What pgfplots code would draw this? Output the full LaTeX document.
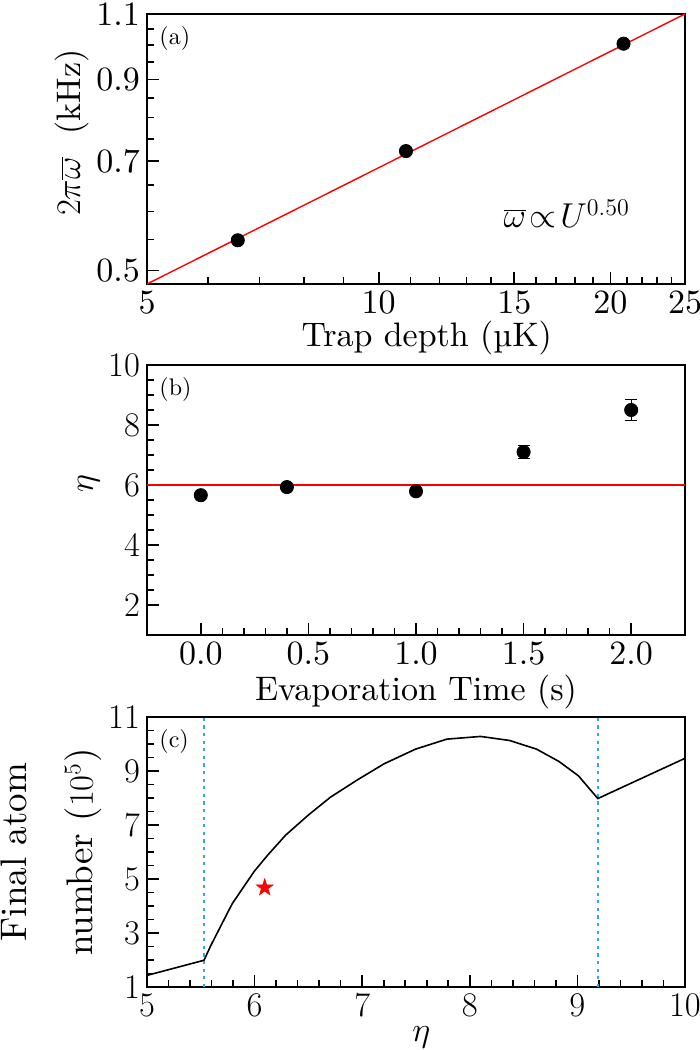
\documentclass[border=0pt]{standalone}
\usepackage{fontspec}
\setmainfont{lmroman10-regular.otf}[ItalicFont=lmroman10-italic.otf, BoldFont=lmroman10-bold.otf]
\usepackage{pgfplots}
\pgfplotsset{compat=1.18}
\definecolor{dashblue}{RGB}{50,170,225}
\pgfdeclareplotmark{fstar}{%
  \pgfpathmoveto{\pgfpointpolar{90}{\pgfplotmarksize}}%
  \pgfpathlineto{\pgfpointpolar{126}{0.382\pgfplotmarksize}}%
  \pgfpathlineto{\pgfpointpolar{162}{\pgfplotmarksize}}%
  \pgfpathlineto{\pgfpointpolar{198}{0.382\pgfplotmarksize}}%
  \pgfpathlineto{\pgfpointpolar{234}{\pgfplotmarksize}}%
  \pgfpathlineto{\pgfpointpolar{270}{0.382\pgfplotmarksize}}%
  \pgfpathlineto{\pgfpointpolar{306}{\pgfplotmarksize}}%
  \pgfpathlineto{\pgfpointpolar{342}{0.382\pgfplotmarksize}}%
  \pgfpathlineto{\pgfpointpolar{18}{\pgfplotmarksize}}%
  \pgfpathlineto{\pgfpointpolar{54}{0.382\pgfplotmarksize}}%
  \pgfpathclose
  \pgfusepathqfillstroke}
\pgfplotsset{
  every axis/.append style={
    scale only axis, width=269pt, height=135pt,
    axis line style={line width=0.9pt},
    tick align=inside, xtick pos=left, ytick pos=left,
    major tick length=6pt, minor tick length=3.3pt,
    every tick/.style={black, line width=0.8pt},
    tick label style={font=\fontsize{17}{20}\selectfont},
    label style={font=\fontsize{17}{20}\selectfont},
    xlabel style={anchor=center},
    ylabel style={anchor=center, rotate=0},
    anchor=south west,
  },
}
\begin{document}
\begin{tikzpicture}
\path[use as bounding box] (0,0) rectangle (350pt,525pt);
% (a)
\begin{axis}[at={(73.5pt,383pt)},
  xmode=log, ymode=log,
  xmin=5, xmax=25, ymin=0.48, ymax=1.1,
  xtick={5,10,15,20,25}, xticklabels={5,10,15,20,25},
  minor xtick={6,7,8,9,11,12,13,14,16,17,18,19,21,22,23,24},
  ytick={0.5,0.7,0.9,1.1}, yticklabels={0.5,0.7,0.9,1.1},
  minor ytick={0.55,0.6,0.65,0.75,0.8,0.85,0.95,1.0,1.05},
  log ticks with fixed point,
  xlabel={Trap depth (\textmu K)},
  xlabel style={at={(axis description cs:0.52,-0.2)}},
  ylabel={$2\pi\overline{\omega}$\ \ (kHz)},
  ylabel style={at={(axis description cs:-0.14,0.56)}},
  clip=false]
\addplot[red, line width=0.7pt] coordinates {(5,0.48) (25,1.1)};
\addplot[only marks, mark=*, mark size=3.3pt, black] coordinates {(6.56,0.549) (10.85,0.722) (20.8,1.004)};
\node[anchor=north west, font=\fontsize{12}{14}\selectfont] at (axis description cs:0.01,0.98) {(a)};
\node[font=\fontsize{17}{20}\selectfont] at (axis description cs:0.78,0.26) {$\overline{\omega}\!\propto\! U^{0.50}$};
\end{axis}
% (b)
\begin{axis}[at={(73.5pt,207.5pt)},
  xmin=-0.25, xmax=2.25, ymin=1, ymax=10,
  xtick={0,0.5,1,1.5,2},
  xticklabels={0.0,0.5,1.0,1.5,2.0},
  minor x tick num=4,
  ytick={2,4,6,8,10},
  minor y tick num=3,
  xlabel={Evaporation Time (s)},
  xlabel style={at={(axis description cs:0.5,-0.21)}},
  ylabel={$\eta$},
  ylabel style={at={(axis description cs:-0.108,0.56)}},
  ]
\addplot[red, line width=0.8pt] coordinates {(-0.25,6) (2.25,6)};
\addplot[only marks, mark=*, mark size=3.3pt, black,
  error bars/.cd, y dir=both, y explicit, error bar style={line width=0.6pt},
  error mark options={rotate=90, mark size=3pt, line width=0.6pt}]
  coordinates {(0,5.66) +- (0,0.08) (0.4,5.93) +- (0,0.08) (1.0,5.79) +- (0,0.08) (1.5,7.1) +- (0,0.22) (2.0,8.5) +- (0,0.34)};
\node[anchor=north west, font=\fontsize{12}{14}\selectfont] at (axis description cs:0.01,0.98) {(b)};
\end{axis}
% (c)
\begin{axis}[at={(73.5pt,31.5pt)},
  xmin=5, xmax=10, ymin=1, ymax=11,
  xtick={5,6,7,8,9,10},
  minor x tick num=4,
  ytick={1,3,5,7,9,11},
  minor y tick num=3,
  xlabel={$\eta$},
  xlabel style={at={(axis description cs:0.51,-0.185)}},
  ylabel={Final atom\\[12pt]number ($10^5$)},
  ylabel style={at={(axis description cs:-0.177,0.5)}, align=center, font=\fontsize{18.5}{21}\selectfont},
  ]
\addplot[dashblue, line width=1pt, dash pattern=on 1.6pt off 2.2pt] coordinates {(5.53,1) (5.53,11)};
\addplot[dashblue, line width=1pt, dash pattern=on 1.6pt off 2.2pt] coordinates {(9.19,1) (9.19,11)};
\addplot[black, line width=0.8pt] coordinates {
(5,1.43) (5.53,1.99) (5.59,2.51) (5.695,3.33) (5.79,4.07) (5.907,4.76) (5.998,5.29)
(6.123,5.89) (6.29,6.63) (6.50,7.37) (6.705,8.03) (6.955,8.67) (7.205,9.27)
(7.496,9.81) (7.787,10.18) (8.10,10.28) (8.37,10.13) (8.62,9.81) (8.83,9.35)
(9.01,8.82) (9.19,7.98) (10,9.47)};
\addplot[only marks, mark=fstar, mark size=4.3pt, red] coordinates {(6.094,4.68)};
\node[anchor=north west, font=\fontsize{12}{14}\selectfont] at (axis description cs:0.01,0.98) {(c)};
\end{axis}
\end{tikzpicture}
\end{document}
